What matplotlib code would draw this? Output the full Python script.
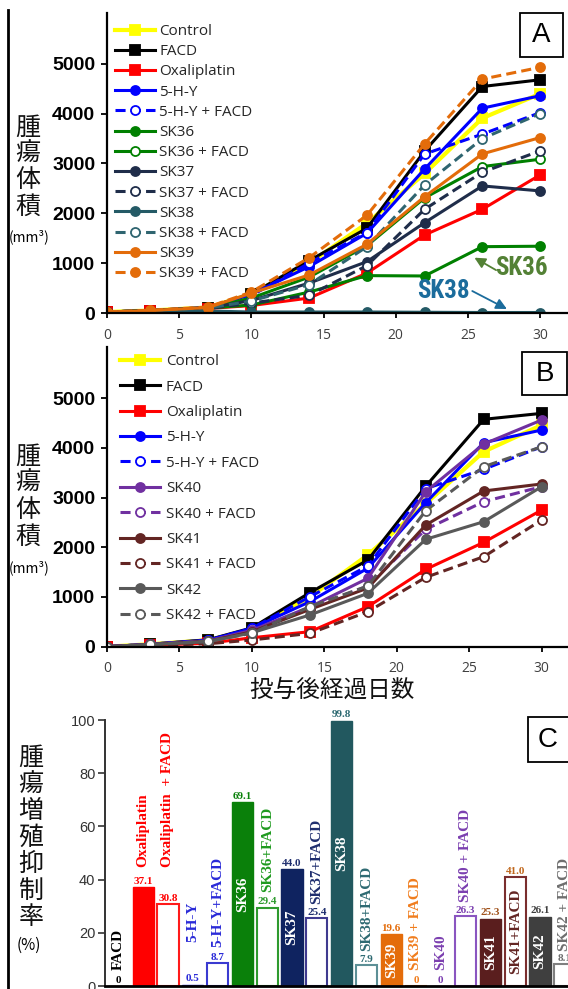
import matplotlib
matplotlib.use('Agg')
import matplotlib.pyplot as plt
from matplotlib.patches import Rectangle
from matplotlib.lines import Line2D
from matplotlib.font_manager import FontProperties

# ---------------- data ----------------
days = [0, 3, 7, 10, 14, 18, 22, 26, 30]

# Panel A (tumour volume, mm3)
a_control     = [20, 50, 110, 380, 1000, 1800, 2800, 3910, 4400]
a_facd        = [20, 50, 110, 380, 1050, 1700, 3250, 4545, 4680]
a_oxali       = [20, 40, 90, 150, 300, 800, 1566, 2082, 2771]
a_5hy         = [20, 50, 110, 380, 930, 1600, 2890, 4110, 4360]
a_5hy_facd    = [20, 50, 110, 350, 1000, 1615, 3190, 3590, 4020]
a_sk36        = [20, 45, 100, 160, 420, 750, 743, 1331, 1340]
a_sk36_facd   = [20, 50, 100, 300, 720, 1350, 2310, 2938, 3086]
a_sk37        = [20, 45, 100, 250, 600, 1030, 1813, 2550, 2450]
a_sk37_facd   = [20, 45, 90, 200, 355, 950, 2082, 2825, 3253]
a_sk38        = [20, 30, 40, 20, 20, 20, 15, 10, 10]
a_sk38_facd   = [20, 50, 100, 240, 570, 1330, 2570, 3500, 4000]
a_sk39        = [20, 50, 110, 400, 763, 1379, 2335, 3193, 3520]
a_sk39_facd   = [20, 55, 120, 420, 1110, 1960, 3394, 4693, 4930]

# Panel B
b_control     = [0, 50, 130, 350, 1000, 1845, 2880, 3924, 4460]
b_facd        = [0, 50, 140, 380, 1087, 1744, 3230, 4575, 4695]
b_oxali       = [0, 30, 70, 180, 302, 805, 1557, 2100, 2750]
b_5hy         = [0, 50, 130, 370, 906, 1580, 2898, 4105, 4360]
b_5hy_facd    = [0, 50, 130, 370, 1006, 1624, 3180, 3569, 4024]
b_sk40        = [0, 50, 120, 330, 800, 1376, 3119, 4078, 4561]
b_sk40_facd   = [0, 40, 110, 300, 780, 1221, 2362, 2918, 3220]
b_sk41        = [0, 40, 110, 300, 750, 1180, 2449, 3133, 3274]
b_sk41_facd   = [0, 20, 60, 135, 268, 704, 1396, 1811, 2550]
b_sk42        = [0, 40, 100, 280, 638, 1074, 2161, 2515, 3220]
b_sk42_facd   = [0, 45, 110, 270, 805, 1221, 2737, 3622, 4024]

# Panel C (inhibition rate, %)
c_categories = ['FACD', 'Oxaliplatin', 'Oxaliplatin  + FACD', '5-H-Y', '5-H-Y+FACD',
                'SK36', 'SK36+FACD', 'SK37', 'SK37+FACD', 'SK38', 'SK38+FACD',
                'SK39', 'SK39 + FACD', 'SK40', 'SK40 + FACD', 'SK41', 'SK41+FACD',
                'SK42', 'SK42 + FACD']
c_values = [0, 37.1, 30.8, 0.5, 8.7, 69.1, 29.4, 44.0, 25.4, 99.8, 7.9,
            19.6, 0, 0, 26.3, 25.3, 41.0, 26.1, 8.1]

yticks_vol = [0, 1000, 2000, 3000, 4000, 5000]
xticks_day = [0, 5, 10, 15, 20, 25, 30]
yticks_pct = [0, 20, 40, 60, 80, 100]

# ---------------- figure ----------------
W, H = 568, 989
fig = plt.figure(figsize=(W / 100, H / 100), dpi=100)
fig.patch.set_facecolor('white')

def fx(x):
    return x / W

def fy(y):
    return 1 - y / H

CJK = ['Noto Sans CJK JP', 'DejaVu Sans']
LEG = FontProperties(family='Open Sans', size=11)
NARROW = ['Roboto Condensed', 'Liberation Sans Narrow', 'DejaVu Sans']

def style_line_axes(ax, ytop):
    ax.set_xlim(0, 32)
    ax.set_ylim(0, ytop)
    for s in ('top', 'right'):
        ax.spines[s].set_visible(False)
    for s in ('left', 'bottom'):
        ax.spines[s].set_linewidth(1.6)
        ax.spines[s].set_color('black')
    ax.set_yticks(yticks_vol)
    ax.set_yticklabels([str(v) for v in yticks_vol],
                       fontfamily='Liberation Sans', fontweight='bold', fontsize=14)
    ax.set_xticks(xticks_day)
    ax.set_xticklabels([str(v) for v in xticks_day],
                       fontfamily='Open Sans', fontsize=10, color='#404040')
    ax.tick_params(axis='y', direction='out', length=4.5, width=1.3, pad=4)
    ax.tick_params(axis='x', direction='out', length=3.5, width=1.3, pad=7)
    ax.set_facecolor('none')

LW = 2.2
DASH = (3.3, 1.7)

def plot_series(ax, y, color, marker, dashed=False, open_=False, lw=LW, label=None):
    kw = dict(color=color, lw=lw, marker=marker, markersize=6.8 if marker == 's' else 6.5,
              markeredgecolor=color, markeredgewidth=1.3, label=label,
              solid_joinstyle='round', dash_joinstyle='round')
    kw['markerfacecolor'] = 'white' if open_ else color
    if dashed:
        kw['linestyle'] = (0, DASH)
    ln, = ax.plot(days, y, **kw)
    return ln

# ---------------- Panel A ----------------
axA = fig.add_axes([fx(107), fy(313), 462 / W, 300 / H])
style_line_axes(axA, 6020)
seriesA = [
    (a_control, '#FFFF00', 's', False, False, 'Control', 3.0),
    (a_facd, '#000000', 's', False, False, 'FACD', LW),
    (a_oxali, '#FF0000', 's', False, False, 'Oxaliplatin', LW),
    (a_5hy, '#0000FF', 'o', False, False, '5-H-Y', LW),
    (a_5hy_facd, '#0000FF', 'o', True, True, '5-H-Y + FACD', LW),
    (a_sk36, '#008000', 'o', False, False, 'SK36', LW),
    (a_sk36_facd, '#008000', 'o', False, True, 'SK36 + FACD', LW),
    (a_sk37, '#1F2D4A', 'o', False, False, 'SK37', LW),
    (a_sk37_facd, '#1F2D4A', 'o', True, True, 'SK37 + FACD', LW),
    (a_sk38, '#245A66', 'o', False, False, 'SK38', LW),
    (a_sk38_facd, '#2F6570', 'o', True, True, 'SK38 + FACD', LW),
    (a_sk39, '#E36C0A', 'o', False, False, 'SK39', LW),
    (a_sk39_facd, '#E36C0A', 'o', True, False, 'SK39 + FACD', LW),
]
hA = []
for y, c, m, d, o, lab, lw in seriesA:
    hA.append(plot_series(axA, y, c, m, dashed=d, open_=o, lw=lw, label=lab))
axA.legend(handles=hA, loc='upper left', bbox_to_anchor=((115 - 107) / 462, 1 - 11 / 300),
           frameon=False, handlelength=2.6, handletextpad=0.3, labelspacing=0.34,
           borderpad=0, borderaxespad=0, prop=LEG, labelcolor='#262626')

# annotations
axA.text(28.74, 903, 'SK36', color='#538135', fontsize=18, fontweight='bold',
         family=NARROW, fontstretch='condensed', ha='center', va='center')
axA.annotate('', xy=(25.45, 1110), xytext=(26.95, 860),
             arrowprops=dict(arrowstyle='-|>', color='#538135', lw=1.3,
                             mutation_scale=16, shrinkA=0, shrinkB=0))
axA.text(23.3, 441, 'SK38', color='#1B6C9C', fontsize=18, fontweight='bold',
         family=NARROW, fontstretch='condensed', ha='center', va='center')
axA.annotate('', xy=(27.7, 80), xytext=(25.3, 441),
             arrowprops=dict(arrowstyle='-|>', color='#1B6C9C', lw=1.3,
                             mutation_scale=16, shrinkA=0, shrinkB=0))

# ---------------- Panel B ----------------
axB = fig.add_axes([fx(107), fy(646.7), 32 * 14.49 / W, 300 / H])
style_line_axes(axB, 6036)
seriesB = [
    (b_control, '#FFFF00', 's', False, False, 'Control', 3.0),
    (b_facd, '#000000', 's', False, False, 'FACD', LW),
    (b_oxali, '#FF0000', 's', False, False, 'Oxaliplatin', LW),
    (b_5hy, '#0000FF', 'o', False, False, '5-H-Y', LW),
    (b_5hy_facd, '#0000FF', 'o', True, True, '5-H-Y + FACD', LW),
    (b_sk40, '#7030A0', 'o', False, False, 'SK40', LW),
    (b_sk40_facd, '#7030A0', 'o', True, True, 'SK40 + FACD', LW),
    (b_sk41, '#632523', 'o', False, False, 'SK41', LW),
    (b_sk41_facd, '#632523', 'o', True, True, 'SK41 + FACD', LW),
    (b_sk42, '#595959', 'o', False, False, 'SK42', LW),
    (b_sk42_facd, '#595959', 'o', True, True, 'SK42 + FACD', LW),
]
hB = []
for y, c, m, d, o, lab, lw in seriesB:
    hB.append(plot_series(axB, y, c, m, dashed=d, open_=o, lw=lw, label=lab))
axB.legend(handles=hB, loc='upper left', bbox_to_anchor=((120 - 107) / 463.7, 1 - 7.5 / 300),
           frameon=False, handlelength=2.6, handletextpad=0.4, labelspacing=0.68,
           borderpad=0, borderaxespad=0, prop=LEG, labelcolor='#262626')

fig.text(fx(332), fy(690), '投与後経過日数', family=CJK, fontsize=17,
         ha='center', va='center', color='#111111')

# ---------------- Panel C ----------------
axC = fig.add_axes([fx(105), fy(986), 18.74 * 24.8 / W, 266 / H])
axC.set_xlim(-0.54, 18.2)
axC.set_ylim(0, 100)
for s in ('top', 'right'):
    axC.spines[s].set_visible(False)
axC.spines['left'].set_linewidth(1.4)
axC.spines['left'].set_color('#333333')
axC.spines['bottom'].set_linewidth(2.0)
axC.spines['bottom'].set_color('black')
axC.set_yticks(yticks_pct)
axC.set_yticklabels([str(v) for v in yticks_pct], fontfamily='Liberation Sans',
                    fontsize=10.5, color='#333333')
axC.tick_params(axis='y', direction='out', length=5, width=1.2, color='#333333', pad=2)
axC.set_xticks([])
axC.set_facecolor('none')

bar_colors = ['#000000', '#FF0000', '#FF1A1A', '#1F1FD0', '#3A3AD0', '#0A800A', '#2E9A2E',
              '#0F2360', '#3F3A8F', '#22585F', '#5C8F96', '#E46C0A', '#F07D1E', '#7B3FB0',
              '#8A55C0', '#5A1E1E', '#7A2E2E', '#3F3F3F', '#7F7F7F']
bar_filled = [True, True, False, True, False, True, False, True, False, True, False,
              True, False, True, False, True, False, True, False]
cat_colors = ['#000000', '#FF0000', '#FF0000', '#2A2AD8', '#2A2AD8', 'white', '#1F9A1F',
              'white', '#1F2E6E', 'white', '#2E6A72', 'white', '#F07D1E', '#7B3FB0',
              '#7B3FB0', 'white', '#632523', 'white', '#6E6E6E']
val_colors = ['#000000', '#FF0000', '#FF0000', '#2A2AD8', '#2A2AD8', '#0A800A', '#2E9A2E',
              '#1F2E6E', '#1F2E6E', '#2E6A72', '#2E6A72', '#E46C0A', '#F07D1E', '#7B3FB0',
              '#7B3FB0', '#A0521C', '#C0661A', '#3F3F3F', '#6E6E6E']
label_inside = [False, False, False, False, False, True, False, True, False, True, False,
                True, False, False, False, True, True, True, False]
label_gap = [6, 7.7, 14, 16, 5.8, 0, 6, 0, 5.4, 0, 5.4, 0, 6, 6, 5.2, 0, 0, 0, 5.2]

for i, (cat, v) in enumerate(zip(c_categories, c_values)):
    col = bar_colors[i]
    if bar_filled[i]:
        axC.bar(i, v, width=0.86, color=col, edgecolor=col, linewidth=1.0)
    else:
        axC.bar(i, v, width=0.86, color='white', edgecolor=col, linewidth=1.5)
    vtxt = '0' if v == 0 else f'{v:.1f}'
    axC.text(i, v + 0.5, vtxt, ha='center', va='bottom', color=val_colors[i],
             family='Liberation Serif', fontweight='bold', fontsize=8)
    if label_inside[i]:
        axC.text(i, v / 2, cat, ha='center', va='center', rotation=90, color=cat_colors[i],
                 family='Liberation Serif', fontweight='bold', fontsize=11)
    else:
        axC.text(i, v + label_gap[i], cat, ha='center', va='bottom', rotation=90,
                 color=cat_colors[i], family='Liberation Serif', fontweight='bold', fontsize=11)

# ---------------- y labels (stacked CJK) ----------------
def stacked(chars, x, y0, pitch, size=18):
    for k, ch in enumerate(chars):
        fig.text(fx(x), fy(y0 + pitch * k), ch, family=CJK, fontsize=size,
                 ha='center', va='center', color='#111111')

stacked('腫瘍体積', 28, 127.5, 26.4)
fig.text(fx(29), fy(237), '(mm³)', family=CJK, fontsize=10, ha='center', va='center')
stacked('腫瘍体積', 28, 456.5, 26.7)
fig.text(fx(29), fy(568), '(mm³)', family=CJK, fontsize=10, ha='center', va='center')
stacked('腫瘍増殖抑制率', 31, 758, 26.5)
fig.text(fx(29), fy(945), '(%)', family=CJK, fontsize=11, ha='center', va='center')

# ---------------- panel boxes ----------------
def box(x0, y0, x1, y1, letter, cx, cy):
    fig.add_artist(Rectangle((fx(x0), fy(y1)), (x1 - x0) / W, (y1 - y0) / H,
                             transform=fig.transFigure, facecolor='white',
                             edgecolor='black', lw=1.3, zorder=5))
    fig.text(fx(cx), fy(cy), letter, family='Liberation Sans', fontsize=20,
             ha='center', va='center', zorder=6)

box(520, 13, 563, 57, 'A', 541.5, 35.5)
box(522, 352, 567, 395, 'B', 544.5, 374)
box(528, 717, 580, 762, 'C', 548, 740)

# left border line
fig.add_artist(Line2D([fx(7.5), fx(7.5)], [fy(10), fy(989)], transform=fig.transFigure,
                      color='black', lw=2.0))

fig.savefig('out.png', dpi=100, facecolor='white')
